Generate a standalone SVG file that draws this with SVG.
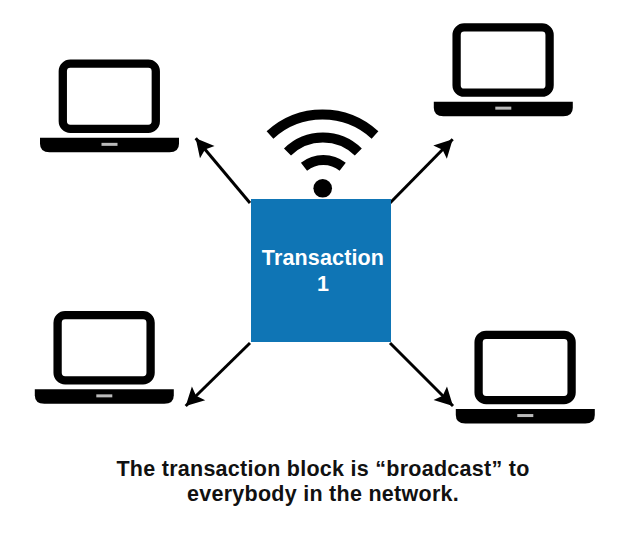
<svg xmlns="http://www.w3.org/2000/svg" xmlns:xlink="http://www.w3.org/1999/xlink" width="644" height="539" viewBox="0 0 644 539">
<style>
.t{font-family:"Liberation Sans",Arial,sans-serif;font-weight:700;text-anchor:middle;font-size:21.5px}
.c{stroke:#000;stroke-width:3;fill:none;marker-end:url(#a)}
.w{stroke:#000;stroke-width:10;fill:none}
</style>
<defs>
<marker id="a" markerUnits="userSpaceOnUse" markerWidth="20" markerHeight="20" refX="18" refY="10" orient="auto" viewBox="0 0 20 20" overflow="visible"><path d="M0 0.500L18 10L0 19.500L3.500 10Z" fill="#000"/></marker>
<g id="laptop">
<rect x="4.300" y="-74.200" width="93" height="65.200" rx="7.500" fill="#fff" stroke="#000" stroke-width="8.300"/>
<path d="M-18.500 0H120.500V6Q120.500 14.500 111 14.500H-9Q-18.500 14.500 -18.500 6Z" fill="#000"/>
<rect x="43" y="5" width="16" height="3" fill="#bbb"/>
</g>
</defs>
<rect width="644" height="539" fill="#fff"/>
<g id="connectors">
<path class="c" d="M250 203L195.700 138.300"/>
<path class="c" d="M390 203L452.700 139.300"/>
<path class="c" d="M250 343L185.700 406"/>
<path class="c" d="M390 343L453 406"/>
</g>
<g id="laptop-top-left"><use xlink:href="#laptop" x="58.500" y="137.850"/></g>
<g id="laptop-top-right"><use xlink:href="#laptop" x="452.300" y="101.650"/></g>
<g id="laptop-bottom-left"><use xlink:href="#laptop" x="53.300" y="389.350"/></g>
<g id="laptop-bottom-right"><use xlink:href="#laptop" x="474.300" y="409.050"/></g>
<g id="wifi">
<path class="w" d="M270 135A77.500 77.500 0 0 1 375 135"/>
<path class="w" d="M287.500 152A50.500 50.500 0 0 1 358.300 152"/>
<path class="w" d="M304 166.700A31.400 31.400 0 0 1 342.700 166.700"/>
<circle cx="322.700" cy="188.300" r="9.300"/>
</g>
<g id="transaction">
<rect x="251" y="199" width="140" height="143" fill="#0f75b5"/>
<text class="t" x="323" y="265" letter-spacing=".15" fill="#fff">Transaction</text>
<text class="t" x="323" y="291" fill="#fff">1</text>
</g>
<g id="caption">
<text class="t" x="323" y="475.500" letter-spacing=".27" fill="#111">The transaction block is “broadcast” to</text>
<text class="t" x="323" y="500.500" letter-spacing=".27" fill="#111">everybody in the network.</text>
</g>
</svg>
